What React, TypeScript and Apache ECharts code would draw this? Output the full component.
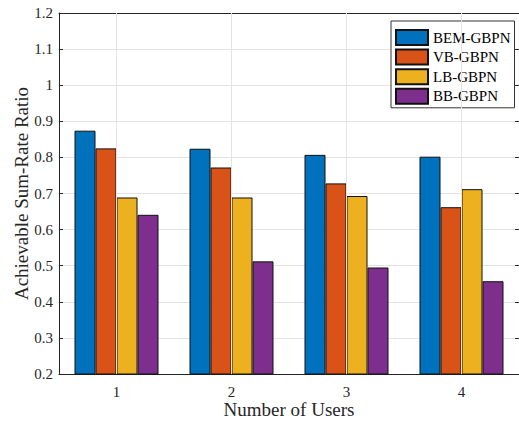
import React, { useEffect, useRef } from "react";
import * as echarts from "echarts";

const categories = ["1", "2", "3", "4"];
const seriesNames = ["BEM-GBPN", "VB-GBPN", "LB-GBPN", "BB-GBPN"];
const bemValues = [0.874, 0.824, 0.807, 0.802];
const vbValues = [0.825, 0.772, 0.728, 0.662];
const lbValues = [0.689, 0.689, 0.693, 0.712];
const bbValues = [0.641, 0.512, 0.495, 0.457];
const colors = ["#0072BD", "#D95319", "#EDB120", "#7E2F8E"];
const yTickLabels = ["0.2", "0.3", "0.4", "0.5", "0.6", "0.7", "0.8", "0.9", "1", "1.1", "1.2"];

const FONT = "'Liberation Serif', 'Times New Roman', serif";

export default function App() {
  const ref = useRef<HTMLDivElement>(null);
  useEffect(() => {
    if (!ref.current) return;
    const chart = echarts.init(ref.current, undefined, { renderer: "svg" });
    const allValues = [bemValues, vbValues, lbValues, bbValues];
    const axisColor = "#262626";
    const gridColor = "#e3e3e3";
    chart.setOption({
      animation: false,
      backgroundColor: "#ffffff",
      grid: { left: 59, top: 13, right: -1, bottom: 46, containLabel: false },
      legend: {
        orient: "vertical",
        left: 391,
        top: 21,
        data: seriesNames,
        icon: "rect",
        itemWidth: 32,
        itemHeight: 15,
        itemGap: 2.6,
        padding: [8, 4, 3, 4],
        borderColor: "#333",
        borderWidth: 1,
        backgroundColor: "#fff",
        textStyle: { fontFamily: FONT, fontSize: 15, color: "#000" },
      },
      xAxis: [
        {
          type: "category",
          data: categories,
          name: "Number of Users",
          nameLocation: "middle",
          nameGap: 26,
          nameMoveOverlap: false,
          nameTextStyle: { fontFamily: FONT, fontSize: 19, color: axisColor },
          axisLine: { show: true, lineStyle: { color: axisColor, width: 1 } },
          axisTick: { show: true, inside: true, alignWithLabel: true, length: 4, lineStyle: { color: axisColor } },
          axisLabel: { fontFamily: FONT, fontSize: 15, color: axisColor, margin: 10 },
          splitLine: { show: false },
        },
        {
          type: "category",
          data: categories,
          position: "top",
          axisLine: { show: true, lineStyle: { color: axisColor, width: 1 } },
          axisTick: { show: true, inside: true, alignWithLabel: true, length: 4, lineStyle: { color: axisColor } },
          axisLabel: { show: false },
          splitLine: { show: false },
        },
      ],
      yAxis: [
        {
          type: "value",
          min: 0.2,
          max: 1.2,
          interval: 0.1,
          name: "Achievable Sum-Rate Ratio",
          nameLocation: "middle",
          nameGap: 28,
          nameMoveOverlap: false,
          nameTextStyle: { fontFamily: FONT, fontSize: 19, color: axisColor },
          axisLine: { show: true, lineStyle: { color: axisColor, width: 1 } },
          axisTick: { show: true, inside: true, length: 4, lineStyle: { color: axisColor } },
          axisLabel: {
            fontFamily: FONT,
            fontSize: 15,
            color: axisColor,
            margin: 6,
            formatter: (v: number) => {
              const idx = Math.round((v - 0.2) / 0.1);
              return yTickLabels[idx] ?? "";
            },
          },
          splitLine: { show: true, lineStyle: { color: gridColor, width: 1 } },
        },
        {
          type: "value",
          min: 0.2,
          max: 1.2,
          interval: 0.1,
          position: "right",
          axisLine: { show: true, lineStyle: { color: axisColor, width: 1 } },
          axisTick: { show: true, inside: true, length: 4, lineStyle: { color: axisColor } },
          axisLabel: { show: false },
          splitLine: { show: false },
        },
      ],
      series: [
        {
          type: "line",
          data: categories.map(() => null),
          z: 1,
          silent: true,
          showSymbol: false,
          markLine: {
            silent: true,
            symbol: ["none", "none"],
            label: { show: false },
            lineStyle: { color: gridColor, type: "solid", width: 1 },
            data: categories.map((c) => ({ xAxis: c })),
          },
        },
        ...seriesNames.map((name, i) => ({
          name,
          type: "bar",
          data: allValues[i],
          barWidth: 21,
          barGap: "0%",
          z: 3,
          itemStyle: { color: colors[i], borderColor: "#111", borderWidth: 1 },
        })),
      ],
    });
    return () => chart.dispose();
  }, []);
  return (
    <div
      ref={ref}
      style={{ position: "fixed", left: 0, top: 0, width: 519, height: 424 }}
    />
  );
}
